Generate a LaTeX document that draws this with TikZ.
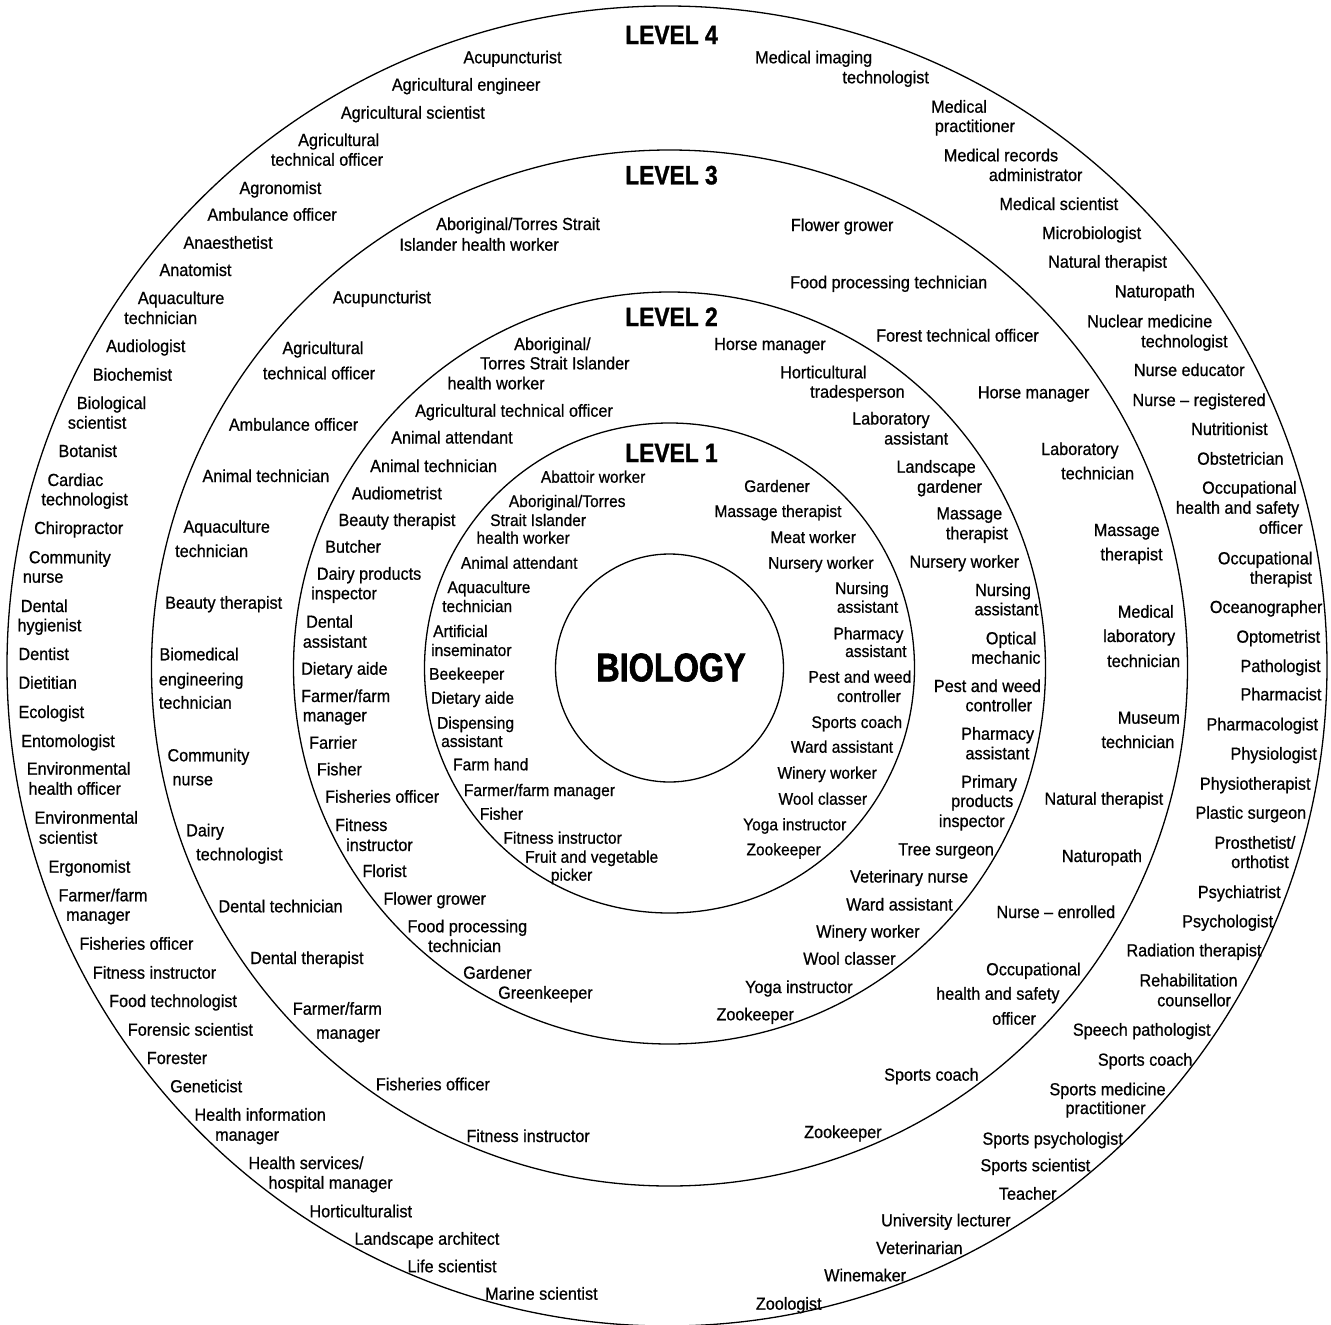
\documentclass[tikz,border=0pt]{standalone}
\usepackage{fontspec}
\setmainfont{Liberation Sans}
\newfontfamily\lbfont[FakeStretch=0.925,FakeBold=0.7]{Liberation Sans}
\newfontfamily\hdfont[FakeStretch=0.86,FakeBold=1.2]{Liberation Sans}
\newfontfamily\bgfont[FakeStretch=0.81,FakeBold=1.6]{Liberation Sans}
\newcounter{lbl}
\newcommand\LbT[3]{\stepcounter{lbl}\edef\lname{t\arabic{lbl}}\node[txt] (\lname) at (#1,#2) {#3};}
\newcommand\LbS[3]{\stepcounter{lbl}\edef\lname{t\arabic{lbl}}\node[txtsmall] (\lname) at (#1,#2) {#3};}
\begin{document}
\begin{tikzpicture}[x=1pt,y=-1pt,
  ring/.style={draw=black,circle,line width=1.3pt,inner sep=0pt,outer sep=0pt},
  txt/.style={anchor=base west,inner sep=0pt,font=\lbfont\fontsize{17.5}{21}\selectfont},
  txtsmall/.style={anchor=base west,inner sep=0pt,font=\lbfont\fontsize{16.8}{20}\selectfont},
  lvl/.style={anchor=base,inner sep=0pt,font=\hdfont\bfseries\fontsize{26.5}{30}\selectfont}]
\useasboundingbox (0,0) rectangle (1331,1325);
\fill[white] (0,0) rectangle (1331,1325);
% rings
\node[ring,minimum size=1320pt] (ring4) at (667,666) {};
\node[ring,minimum size=1036pt] (ring3) at (669.5,668) {};
\node[ring,minimum size=752pt] (ring2) at (669.5,668) {};
\node[ring,minimum size=490pt] (ring1) at (669.5,668) {};
\node[ring,minimum size=228pt] (bio) at (669.5,668) {};
\node[inner sep=0pt,anchor=base,font=\bgfont\bfseries\fontsize{40}{44}\selectfont] (biotext) at (671,681.3) {BIOLOGY};
% level labels
\node[lvl] (lv4) at (671.5,44) {LEVEL 4};
\node[lvl] (lv3) at (671.5,184.3) {LEVEL 3};
\node[lvl] (lv2) at (671.5,326) {LEVEL 2};
\node[lvl] (lv1) at (671.5,462) {LEVEL 1};
% ---- Level 4 left
\LbT{463.3}{63.3}{Acupuncturist}
\LbT{391.7}{90.7}{Agricultural engineer}
\LbT{340.7}{118.7}{Agricultural scientist}
\LbT{298}{146}{Agricultural}
\LbT{270.7}{165.7}{technical officer}
\LbT{239.3}{194}{Agronomist}
\LbT{207.3}{220.7}{Ambulance officer}
\LbT{183.3}{248.7}{Anaesthetist}
\LbT{159.3}{276}{Anatomist}
\LbT{137.7}{304}{Aquaculture}
\LbT{124}{324}{technician}
\LbT{106}{352}{Audiologist}
\LbT{92.7}{380.7}{Biochemist}
\LbT{76.7}{409}{Biological}
\LbT{67.7}{428.7}{scientist}
\LbT{58.3}{457}{Botanist}
\LbT{47.3}{486}{Cardiac}
\LbT{41.3}{505.3}{technologist}
\LbT{34}{534}{Chiropractor}
\LbT{28.7}{563.3}{Community}
\LbT{22.7}{582.7}{nurse}
\LbT{20.7}{612}{Dental}
\LbT{17.3}{631.3}{hygienist}
\LbT{18.3}{660}{Dentist}
\LbT{18.3}{688.7}{Dietitian}
\LbT{18.3}{718}{Ecologist}
\LbT{21}{747}{Entomologist}
\LbT{26.7}{774.7}{Environmental}
\LbT{28.3}{794.7}{health officer}
\LbT{34.3}{823.7}{Environmental}
\LbT{38.7}{843.7}{scientist}
\LbT{48.3}{872.7}{Ergonomist}
\LbT{58.3}{901.3}{Farmer/farm}
\LbT{66}{920.7}{manager}
\LbT{79.3}{949.7}{Fisheries officer}
\LbT{92.7}{978.7}{Fitness instructor}
\LbT{109}{1007}{Food technologist}
\LbT{127.7}{1035.7}{Forensic scientist}
\LbT{146.7}{1064}{Forester}
\LbT{170}{1092.3}{Geneticist}
\LbT{194.3}{1120.7}{Health information}
\LbT{215}{1140.7}{manager}
\LbT{248.3}{1169}{Health services/}
\LbT{268.3}{1188.7}{hospital manager}
\LbT{309.3}{1217.3}{Horticulturalist}
\LbT{354.3}{1244.7}{Landscape architect}
\LbT{407.3}{1272.3}{Life scientist}
\LbT{485}{1299.7}{Marine scientist}
% ---- Level 4 right
\LbT{755}{63.3}{Medical imaging}
\LbT{842.3}{83.3}{technologist}
\LbT{931}{112.7}{Medical}
\LbT{934.7}{132}{practitioner}
\LbT{943.7}{161.3}{Medical records}
\LbT{988.7}{181}{administrator}
\LbT{999.3}{210}{Medical scientist}
\LbT{1042}{239}{Microbiologist}
\LbT{1048}{267.7}{Natural therapist}
\LbT{1114.7}{297.3}{Naturopath}
\LbT{1087}{327.3}{Nuclear medicine}
\LbT{1141}{347.3}{technologist}
\LbT{1133.7}{376}{Nurse educator}
\LbT{1132.3}{406}{Nurse – registered}
\LbT{1191}{435}{Nutritionist}
\LbT{1197}{464.7}{Obstetrician}
\LbT{1202}{493.7}{Occupational}
\LbT{1175.7}{513.7}{health and safety}
\LbT{1258.7}{533.7}{officer}
\LbT{1217.7}{564.3}{Occupational}
\LbT{1249.7}{583.7}{therapist}
\LbT{1209.7}{613}{Oceanographer}
\LbT{1236.3}{642.7}{Optometrist}
\LbT{1240.3}{672}{Pathologist}
\LbT{1240.3}{700.3}{Pharmacist}
\LbT{1206.3}{730.3}{Pharmacologist}
\LbT{1230.3}{759.7}{Physiologist}
\LbT{1199.7}{789.7}{Physiotherapist}
\LbT{1195.3}{818.7}{Plastic surgeon}
\LbT{1214.3}{848.7}{Prosthetist/}
\LbT{1231}{868}{orthotist}
\LbT{1197.7}{898}{Psychiatrist}
\LbT{1182}{927.3}{Psychologist}
\LbT{1126.3}{956.3}{Radiation therapist}
\LbT{1139.3}{986.3}{Rehabilitation}
\LbT{1157}{1006.3}{counsellor}
\LbT{1072.7}{1035.7}{Speech pathologist}
\LbT{1097.7}{1065.7}{Sports coach}
\LbT{1049.3}{1095.3}{Sports medicine}
\LbT{1065.3}{1114}{practitioner}
\LbT{982.3}{1144.7}{Sports psychologist}
\LbT{980.3}{1171.3}{Sports scientist}
\LbT{998.7}{1199.7}{Teacher}
\LbT{881}{1226.3}{University lecturer}
\LbT{876}{1254}{Veterinarian}
\LbT{824}{1281.3}{Winemaker}
\LbT{755.7}{1309.7}{Zoologist}
% ---- Level 3 left
\LbT{436}{230}{Aboriginal/Torres Strait}
\LbT{399.3}{250.7}{Islander health worker}
\LbT{332.7}{303.3}{Acupuncturist}
\LbT{282.3}{354}{Agricultural}
\LbT{262.7}{379.3}{technical officer}
\LbT{228.7}{430.7}{Ambulance officer}
\LbT{202.3}{482}{Animal technician}
\LbT{183.3}{532.7}{Aquaculture}
\LbT{175}{557}{technician}
\LbT{165}{608.7}{Beauty therapist}
\LbT{159.3}{660.3}{Biomedical}
\LbT{158.7}{685.3}{engineering}
\LbT{158.7}{708.7}{technician}
\LbT{167.3}{761.3}{Community}
\LbT{172.3}{785.3}{nurse}
\LbT{186}{836.3}{Dairy}
\LbT{196}{860.3}{technologist}
\LbT{218.3}{912.3}{Dental technician}
\LbT{250}{964}{Dental therapist}
\LbT{292.7}{1014.7}{Farmer/farm}
\LbT{316}{1038.7}{manager}
\LbT{375.7}{1090.3}{Fisheries officer}
\LbT{466.3}{1142}{Fitness instructor}
% ---- Level 3 right
\LbT{790.7}{231}{Flower grower}
\LbT{790}{288.3}{Food processing technician}
\LbT{876}{341.5}{Forest technical officer}
\LbT{977.7}{398.3}{Horse manager}
\LbT{1041}{455}{Laboratory}
\LbT{1061}{479.3}{technician}
\LbT{1093.7}{536}{Massage}
\LbT{1100.3}{560.3}{therapist}
\LbT{1117.7}{617.7}{Medical}
\LbT{1103}{642}{laboratory}
\LbT{1107}{667}{technician}
\LbT{1117.7}{723.7}{Museum}
\LbT{1101.3}{748}{technician}
\LbT{1044.3}{804.7}{Natural therapist}
\LbT{1061.7}{862}{Naturopath}
\LbT{996.3}{918}{Nurse – enrolled}
\LbT{986}{975.3}{Occupational}
\LbT{936}{999.7}{health and safety}
\LbT{992}{1024.7}{officer}
\LbT{884}{1080.7}{Sports coach}
\LbT{804}{1138}{Zookeeper}
% ---- Level 2 left
\LbT{514}{350}{Aboriginal/}
\LbT{480}{369.3}{Torres Strait Islander}
\LbT{447.3}{389.3}{health worker}
\LbT{415}{416.7}{Agricultural technical officer}
\LbT{391}{443.5}{Animal attendant}
\LbT{370}{472}{Animal technician}
\LbT{351.7}{499.3}{Audiometrist}
\LbT{338.3}{526}{Beauty therapist}
\LbT{325}{552.7}{Butcher}
\LbT{316.7}{579.7}{Dairy products}
\LbT{311}{599.3}{inspector}
\LbT{306}{627.7}{Dental}
\LbT{302.7}{647.7}{assistant}
\LbT{301}{674.7}{Dietary aide}
\LbT{301}{702}{Farmer/farm}
\LbT{302.7}{721.3}{manager}
\LbT{309}{748.7}{Farrier}
\LbT{316.7}{775.3}{Fisher}
\LbT{325}{802.7}{Fisheries officer}
\LbT{335}{831}{Fitness}
\LbT{346}{851}{instructor}
\LbT{362.3}{877}{Florist}
\LbT{383.3}{904.7}{Flower grower}
\LbT{407.3}{932.3}{Food processing}
\LbT{428}{952}{technician}
\LbT{463}{978.7}{Gardener}
\LbT{498}{998.7}{Greenkeeper}
% ---- Level 2 right
\LbT{714}{350}{Horse manager}
\LbT{780}{378.3}{Horticultural}
\LbT{810}{397.7}{tradesperson}
\LbT{852}{424.5}{Laboratory}
\LbT{884}{444.5}{assistant}
\LbT{896.3}{472.7}{Landscape}
\LbT{917}{492.7}{gardener}
\LbT{936.3}{519.3}{Massage}
\LbT{945.7}{539.3}{therapist}
\LbT{909.3}{567.7}{Nursery worker}
\LbT{975}{596}{Nursing}
\LbT{974.3}{615.3}{assistant}
\LbT{985.7}{644.3}{Optical}
\LbT{971}{663.7}{mechanic}
\LbT{933.7}{692}{Pest and weed}
\LbT{965.3}{711.3}{controller}
\LbT{961}{739.7}{Pharmacy}
\LbT{965.3}{759.3}{assistant}
\LbT{961}{787.7}{Primary}
\LbT{951}{807}{products}
\LbT{938.7}{827}{inspector}
\LbT{898}{855.3}{Tree surgeon}
\LbT{850}{882.5}{Veterinary nurse}
\LbT{846}{910.5}{Ward assistant}
\LbT{816}{937.5}{Winery worker}
\LbT{803}{964.7}{Wool classer}
\LbT{745}{993}{Yoga instructor}
\LbT{716.3}{1020.3}{Zookeeper}
% ---- Level 1 left
\LbS{540.7}{482.7}{Abattoir worker}
\LbS{508.7}{507}{Aboriginal/Torres}
\LbS{490}{526}{Strait Islander}
\LbS{476.3}{543.7}{health worker}
\LbS{460.7}{568.7}{Animal attendant}
\LbS{447.3}{593}{Aquaculture}
\LbS{442}{612}{technician}
\LbS{433}{637}{Artificial}
\LbS{431}{656}{inseminator}
\LbS{429}{679.7}{Beekeeper}
\LbS{431}{703.7}{Dietary aide}
\LbS{437}{728.7}{Dispensing}
\LbS{441}{747}{assistant}
\LbS{453}{770.3}{Farm hand}
\LbS{463.7}{796}{Farmer/farm manager}
\LbS{479.7}{819.7}{Fisher}
\LbS{503.3}{843.7}{Fitness instructor}
\LbS{525}{862.7}{Fruit and vegetable}
\LbS{550.7}{880.7}{picker}
% ---- Level 1 right
\LbS{744}{492}{Gardener}
\LbS{714.3}{517}{Massage therapist}
\LbS{770.3}{543}{Meat worker}
\LbS{768}{568.7}{Nursery worker}
\LbS{835}{594}{Nursing}
\LbS{836.7}{612.7}{assistant}
\LbS{833.3}{639.3}{Pharmacy}
\LbS{845}{657}{assistant}
\LbS{808.3}{682.7}{Pest and weed}
\LbS{836.7}{702}{controller}
\LbS{811.3}{728}{Sports coach}
\LbS{790.7}{752.7}{Ward assistant}
\LbS{777.3}{778.7}{Winery worker}
\LbS{778.3}{804.7}{Wool classer}
\LbS{743}{830.3}{Yoga instructor}
\LbS{746.3}{855.3}{Zookeeper}
\end{tikzpicture}
\end{document}
